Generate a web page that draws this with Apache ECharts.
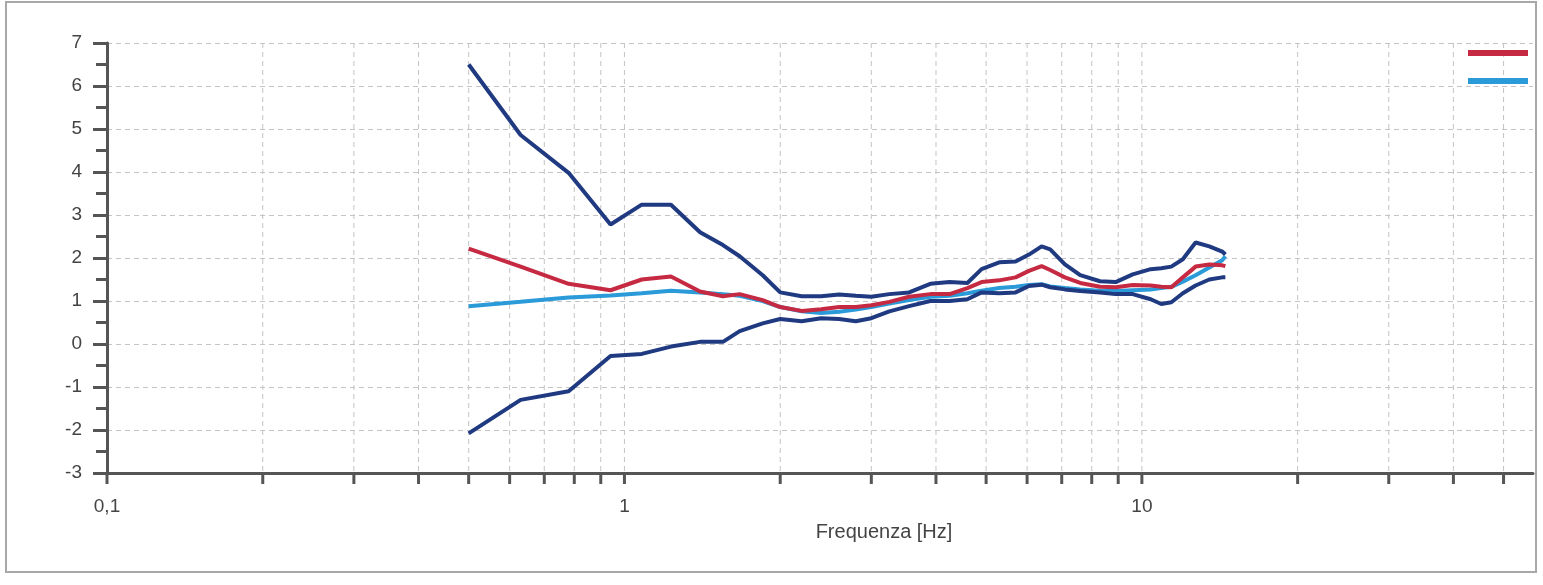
<!DOCTYPE html>
<html>
<head>
<meta charset="utf-8">
<script src="https://cdn.jsdelivr.net/npm/echarts@6/dist/echarts.min.js"></script>
<style>
html,body{margin:0;padding:0;background:#fff;}
#chart{width:1543px;height:585px;}
</style>
</head>
<body>
<div id="chart"></div>
<script>
// Frequencies (Hz) at which the curves were read
const freq = [0.5, 0.63, 0.78, 0.94, 1.08, 1.23, 1.4, 1.55, 1.67, 1.85, 2.0, 2.2, 2.4, 2.6, 2.8, 3.0, 3.25, 3.55, 3.9, 4.25, 4.6, 4.9, 5.3, 5.7, 6.05, 6.4, 6.65, 7.1, 7.6, 8.3, 8.9, 9.6, 10.4, 10.9, 11.4, 12.0, 12.7, 13.5, 14.3, 14.5];
// Upper envelope (dark blue)
const upperVals = [6.5, 4.86, 3.98, 2.78, 3.24, 3.24, 2.6, 2.3, 2.04, 1.6, 1.2, 1.11, 1.11, 1.15, 1.12, 1.1, 1.16, 1.2, 1.4, 1.44, 1.42, 1.74, 1.9, 1.92, 2.08, 2.27, 2.2, 1.85, 1.6, 1.46, 1.44, 1.62, 1.74, 1.76, 1.8, 1.97, 2.36, 2.27, 2.15, 2.08];
// Lower envelope (dark blue)
const lowerVals = [-2.08, -1.3, -1.1, -0.28, -0.23, -0.06, 0.05, 0.05, 0.3, 0.48, 0.58, 0.53, 0.6, 0.58, 0.53, 0.6, 0.76, 0.88, 1.0, 1.0, 1.04, 1.2, 1.18, 1.2, 1.35, 1.38, 1.32, 1.27, 1.23, 1.2, 1.16, 1.16, 1.04, 0.93, 0.97, 1.18, 1.36, 1.5, 1.55, 1.55];
// Red curve
const redVals = [2.22, 1.8, 1.4, 1.25, 1.5, 1.57, 1.22, 1.11, 1.16, 1.02, 0.86, 0.77, 0.81, 0.86, 0.86, 0.9, 0.98, 1.1, 1.16, 1.16, 1.3, 1.44, 1.48, 1.55, 1.7, 1.81, 1.72, 1.55, 1.42, 1.33, 1.32, 1.37, 1.36, 1.33, 1.32, 1.55, 1.8, 1.85, 1.83, 1.81];
// Light blue curve
const blueVals = [0.88, 0.98, 1.08, 1.13, 1.18, 1.24, 1.2, 1.16, 1.12, 1.0, 0.86, 0.76, 0.72, 0.75, 0.8, 0.86, 0.94, 1.02, 1.1, 1.12, 1.18, 1.24, 1.3, 1.33, 1.37, 1.39, 1.34, 1.3, 1.27, 1.24, 1.23, 1.25, 1.27, 1.3, 1.33, 1.45, 1.6, 1.78, 1.95, 2.04];
// Log-axis grid / tick positions
const gridFreqs = [0.1, 0.2, 0.3, 0.4, 0.5, 0.6, 0.7, 0.8, 0.9, 1, 2, 3, 4, 5, 6, 7, 8, 9, 10, 20, 30, 40, 50];
// Tick labels
const xLabels = {'0.1': '0,1', '1': '1', '10': '10'};
const xName = 'Frequenza [Hz]';

const Y_MIN = -3, Y_MAX = 7;
const pair = (vals) => freq.map((f, i) => [f, vals[i]]);

const chart = echarts.init(document.getElementById('chart'));
const lineStyleBase = {width: 4};
chart.setOption({
  animation: false,
  backgroundColor: '#fff',
  grid: {left: 107, right: 10, top: 43, bottom: 112, containLabel: false},
  legend: {
    right: 10, top: 45, orient: 'vertical', itemWidth: 60, itemHeight: 6, itemGap: 22,
    icon: 'rect', formatter: () => '', textStyle: {fontSize: 1},
    data: ['Rosso', 'Azzurro'], selectedMode: false
  },
  xAxis: {
    type: 'log', logBase: 10, min: 0.1, max: 57,
    axisLine: {show: true, onZero: false, lineStyle: {color: '#555', width: 3}},
    axisTick: {show: false},
    splitLine: {show: false},
    minorTick: {show: false},
    axisLabel: {
      margin: 24, fontSize: 19, color: '#444', fontFamily: 'Liberation Sans, Arial, sans-serif',
      formatter: (v) => {
        for (const k in xLabels) { if (Math.abs(v - parseFloat(k)) < 1e-6 * parseFloat(k)) return xLabels[k]; }
        return '';
      }
    }
  },
  yAxis: {
    type: 'value', min: Y_MIN, max: Y_MAX, interval: 1,
    axisLine: {show: true, onZero: false, lineStyle: {color: '#555', width: 3}},
    axisTick: {show: true, length: 14, lineStyle: {color: '#555', width: 3}},
    minorTick: {show: true, splitNumber: 2, length: 11, lineStyle: {color: '#555', width: 3}},
    splitLine: {show: true, lineStyle: {color: '#c4c4c4', type: [5, 4], width: 1}},
    axisLabel: {margin: 25, fontSize: 19, color: '#444', fontFamily: 'Liberation Sans, Arial, sans-serif'}
  },
  graphic: [
    {type: 'rect', shape: {x: 6, y: 2, width: 1530, height: 570}, style: {fill: 'none', stroke: '#a8a8a8', lineWidth: 2}, z: -1},
    {type: 'text', x: 884, y: 532, style: {text: xName, fontSize: 20, fill: '#444', align: 'center', verticalAlign: 'middle', fontFamily: 'Liberation Sans, Arial, sans-serif'}}
  ],
  series: [
    {
      type: 'custom', name: 'grid', silent: true, clip: false, z: 1,
      data: gridFreqs.map(f => [f, Y_MIN]),
      renderItem: (params, api) => {
        const f = api.value(0);
        const top = api.coord([f, Y_MAX]);
        const bot = api.coord([f, Y_MIN]);
        const children = [
          {type: 'line', shape: {x1: bot[0], y1: bot[1], x2: bot[0], y2: bot[1] + 11}, style: {stroke: '#555', lineWidth: 3}}
        ];
        if (f > 0.1 + 1e-9) {
          children.push({type: 'line', shape: {x1: top[0], y1: top[1], x2: bot[0], y2: bot[1]}, style: {stroke: '#c4c4c4', lineWidth: 1, lineDash: [5, 4]}});
        }
        return {type: 'group', children};
      }
    },
    {name: 'Azzurro', type: 'line', data: pair(blueVals), showSymbol: false, z: 3, color: '#2b9ad8', lineStyle: Object.assign({color: '#2b9ad8'}, lineStyleBase)},
    {name: 'Rosso', type: 'line', data: pair(redVals), showSymbol: false, z: 4, color: '#c62a42', lineStyle: Object.assign({color: '#c62a42'}, lineStyleBase)},
    {name: 'Inferiore', type: 'line', data: pair(lowerVals), showSymbol: false, z: 5, color: '#1f3a80', lineStyle: Object.assign({color: '#1f3a80'}, lineStyleBase)},
    {name: 'Superiore', type: 'line', data: pair(upperVals), showSymbol: false, z: 5, color: '#1f3a80', lineStyle: Object.assign({color: '#1f3a80'}, lineStyleBase)}
  ]
});
</script>
</body>
</html>
